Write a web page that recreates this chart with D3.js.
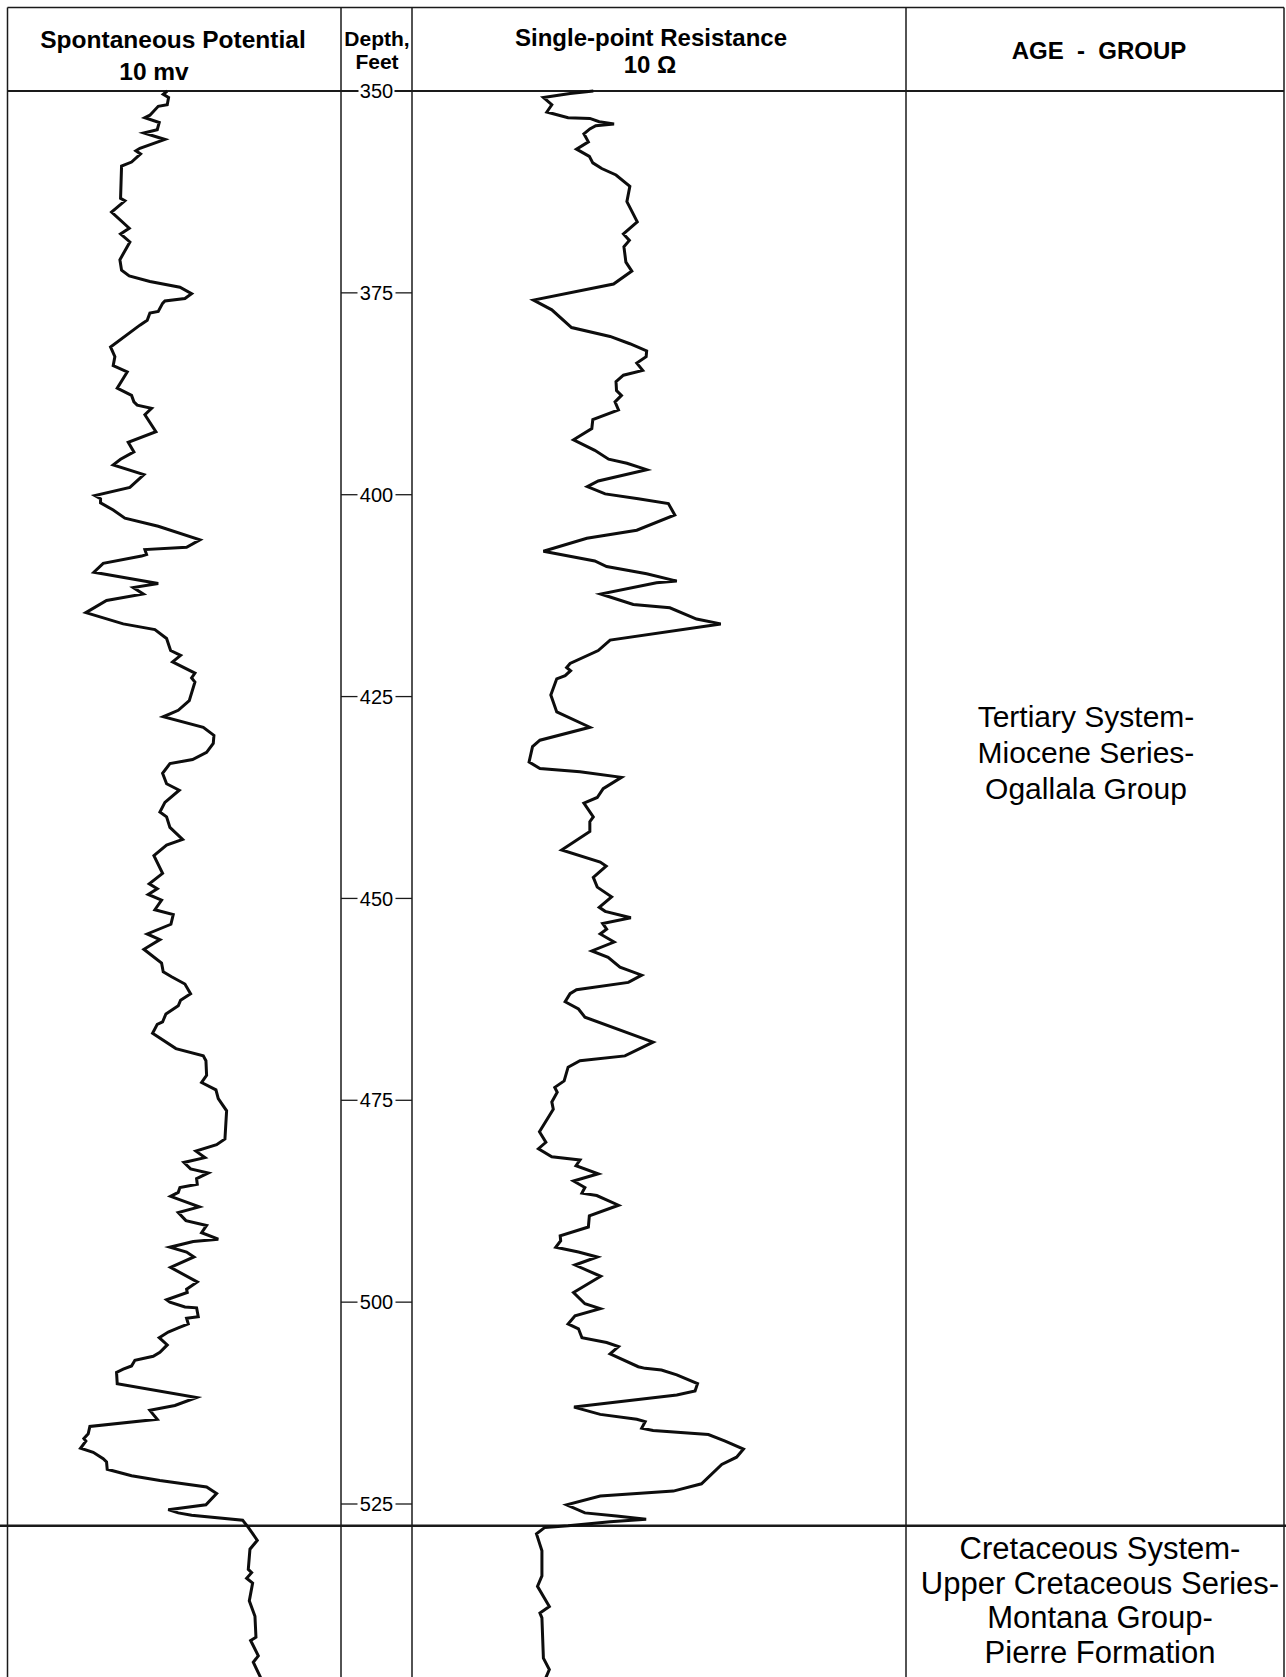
<!DOCTYPE html>
<html>
<head>
<meta charset="utf-8">
<script src="https://cdn.jsdelivr.net/npm/d3@7"></script>
<style>
  html, body { margin: 0; padding: 0; background: #fff; }
  svg { display: block; }
  text { font-family: "Liberation Sans", Arial, sans-serif; fill: #000; }
</style>
</head>
<body>
<div id="log-container"></div>
<script>
// depth ticks on the centre track
var depthTicks = [350, 375, 400, 425, 450, 475, 500, 525];

// formation contact (feet)
var contactDepth = 527.7;

// track headers
var headerSP = ["Spontaneous Potential", "10 mv"];
var headerDepth = ["Depth,", "Feet"];
var headerRes = ["Single-point Resistance", "10 \u03A9"];
var headerAge = "AGE  -  GROUP";

// formations
var upperUnit = ["Tertiary System-", "Miocene Series-", "Ogallala Group"];
var lowerUnit = ["Cretaceous System-", "Upper Cretaceous Series-", "Montana Group-", "Pierre Formation"];

// spontaneous potential: [depth ft, relative mv position in track 0-100]
var spLog = [
  [350,47.9],[350.4,46.7],[350.8,48.3],[351.7,47.9],[351.9,45.2],[353.0,42.7],[353.3,41.2],[353.9,45.5],
  [354.8,44.9],[355.2,40.9],[356.0,47.2],[357.1,39.7],[357.4,38.5],[357.8,39.9],[358.8,37.2],[359.3,34.2],
  [363.3,33.9],[363.6,35.2],[365.0,31.2],[367.0,36.5],[367.7,33.9],[368.7,36.7],[370.9,33.7],[372.2,34.2],
  [372.9,36.5],[373.6,42.7],[374.3,51.7],[375.1,55.2],[375.7,53.2],[376.0,47.2],[376.3,46.5],[377.3,45.2],
  [377.5,42.7],[378.4,41.9],[379.0,39.7],[381.7,30.9],[382.9,32.2],[384.0,31.7],[384.8,35.9],[386.8,32.9],
  [387.7,37.2],[388.5,37.9],[388.9,38.9],[389.3,43.2],[390.1,41.2],[392.2,44.5],[393.5,36.2],[394.7,37.9],
  [395.6,33.9],[396.3,31.7],[397.5,40.9],[399.1,36.7],[400.1,26.2],[400.5,27.9],[401.0,27.9],[401.9,31.7],
  [402.9,35.2],[403.9,45.2],[405.6,57.7],[406.5,53.7],[406.8,41.2],[407.4,41.7],[407.6,40.2],[408.5,28.7],
  [409.6,25.9],[411.0,45.2],[411.5,37.7],[412.3,40.7],[413.1,29.7],[414.6,23.5],[416.0,34.7],[416.7,44.2],
  [417.8,47.7],[419.3,48.9],[419.9,51.9],[420.7,49.5],[422.1,56.2],[422.7,55.2],[423.2,56.2],[425.5,54.5],
  [426.7,51.2],[427.5,46.7],[428.8,58.7],[429.8,61.9],[430.8,61.7],[431.9,59.7],[432.8,55.5],[433.3,48.7],
  [434.5,46.5],[435.8,47.7],[436.6,51.5],[438.1,47.2],[439.3,45.7],[439.9,47.7],[441.2,48.7],[442.7,52.5],
  [443.4,47.7],[444.7,43.9],[446.9,46.5],[448.2,42.5],[448.8,44.9],[449.5,42.2],[450.2,46.2],[451.4,44.2],
  [452.0,49.7],[453.2,49.0],[454.4,41.9],[455.1,45.7],[456.3,40.9],[458.0,46.2],[459.1,46.7],[459.7,49.2],
  [460.6,53.2],[461.8,54.9],[462.6,51.9],[463.3,51.2],[464.3,47.5],[465.3,46.5],[465.6,44.9],[466.7,43.5],
  [468.6,50.5],[469.5,58.7],[470.1,59.5],[471.9,59.7],[472.8,58.2],[473.7,62.5],[474.8,63.2],[476.3,65.7],
  [479.8,65.2],[480.5,62.7],[481.3,56.5],[482.1,59.2],[482.7,52.9],[483.5,54.9],[484.0,60.2],[484.7,56.7],
  [485.4,56.9],[485.8,51.7],[486.4,51.2],[486.9,48.9],[488.2,57.5],[488.9,51.2],[489.9,53.5],[490.5,59.7],
  [491.4,58.2],[492.2,63.2],[492.5,55.7],[493.2,48.7],[493.8,53.7],[494.4,55.9],[495.7,48.9],[497.5,56.9],
  [498.4,53.7],[498.8,53.9],[499.7,47.7],[500.0,48.7],[500.6,53.2],[500.7,56.7],[501.8,57.2],[502.0,53.7],
  [502.7,54.2],[503.2,51.2],[503.7,48.2],[504.4,45.5],[505.3,47.9],[506.2,45.7],[506.7,43.7],[507.2,38.2],
  [507.9,37.2],[508.3,34.7],[508.7,32.7],[510.1,32.9],[511.8,56.7],[512.8,50.2],[513.4,42.7],[514.5,44.9],
  [515.4,24.7],[516.3,24.2],[516.9,22.9],[517.2,23.5],[518.1,21.9],[518.6,25.7],[519.4,28.7],[519.8,29.7],
  [520.7,29.9],[521.5,37.2],[522.1,45.7],[522.9,59.7],[523.7,62.7],[525.1,59.5],[525.7,48.2],[526.1,51.2],
  [526.4,55.2],[527.0,70.5],[527.9,72.2],[529.5,74.9],[530.6,72.7],[533.1,72.2],[533.5,73.2],[534.2,71.7],
  [534.8,73.5],[537.0,72.5],[538.9,74.2],[541.5,74.5],[541.9,72.9],[543.8,75.2],[544.6,73.7],[546.5,75.9]
];

// single-point resistance: [depth ft, relative ohm position in track 0-100]
var resLog = [
  [350,36.7],[350.3,32.0],[350.8,26.6],[351.7,28.3],[352.6,27.3],[353.3,31.6],[353.4,36.0],[353.8,37.9],
  [354.1,40.9],[354.3,37.2],[354.7,36.0],[355.3,34.8],[356.3,35.7],[357.2,33.3],[358.1,35.9],[358.9,36.6],
  [359.6,38.4],[360.4,41.3],[361.8,44.1],[363.7,43.5],[366.2,45.6],[367.7,42.8],[368.5,44.0],[369.3,42.9],
  [371.2,43.3],[372.3,44.5],[373.9,40.8],[375.9,24.6],[377.1,28.3],[379.3,32.3],[380.4,40.1],[381.3,44.1],
  [382.2,47.5],[382.9,47.4],[383.7,45.5],[384.6,46.7],[385.2,42.8],[386.0,41.3],[387.1,41.4],[387.7,42.4],
  [388.5,41.1],[389.5,41.8],[390.7,36.6],[391.8,36.4],[393.2,32.7],[394.5,37.0],[395.6,39.8],[396.1,43.5],
  [396.9,47.5],[398.3,37.7],[399.0,35.5],[399.9,39.1],[400.5,45.8],[401.1,51.9],[402.5,53.2],[404.4,45.5],
  [405.4,35.4],[407.0,26.6],[408.2,37.0],[408.9,39.4],[409.8,47.5],[410.7,53.6],[410.9,49.5],[412.3,38.2],
  [413.6,44.8],[414.0,52.2],[415.4,57.6],[416.0,62.5],[418.0,40.1],[419.3,37.7],[420.9,32.0],[421.4,31.3],
  [421.8,32.1],[422.4,31.0],[422.8,29.3],[424.8,28.1],[426.9,29.3],[428.8,36.0],[430.4,25.9],[431.2,24.4],
  [433.1,23.7],[433.9,25.9],[434.3,34.0],[435.0,42.4],[436.4,38.7],[437.5,37.5],[438.2,34.8],[439.9,36.7],
  [440.5,36.0],[441.7,36.0],[444.0,30.3],[445.5,38.1],[446.0,39.3],[447.4,36.7],[448.6,37.5],[449.8,40.4],
  [451.1,37.9],[451.6,39.1],[452.4,44.3],[453.1,38.6],[453.8,39.4],[454.4,38.1],[455.4,40.9],[456.5,36.4],
  [457.3,39.7],[458.5,42.1],[459.5,46.5],[460.4,43.8],[461.3,33.3],[461.8,32.0],[462.8,31.0],[463.7,33.7],
  [464.7,35.0],[467.8,48.8],[469.5,43.1],[470.1,34.0],[470.9,31.6],[472.6,30.8],[473.4,28.9],[474.0,29.4],
  [475.2,28.3],[476.1,28.6],[478.9,25.8],[480.2,27.1],[481.0,25.6],[482.0,28.3],[482.4,34.0],[483.1,33.2],
  [484.1,37.7],[485.0,32.7],[485.8,35.0],[486.5,34.4],[486.8,37.4],[488.0,41.8],[489.3,35.9],[490.7,35.7],
  [491.8,30.0],[492.4,30.1],[493.2,29.1],[493.8,33.7],[494.4,37.5],[495.4,33.0],[496.8,38.2],[498.8,32.7],
  [500.2,35.0],[500.8,38.1],[501.7,33.0],[502.7,31.6],[503.3,33.7],[504.4,34.4],[505.0,39.4],[505.5,41.8],
  [506.4,40.1],[508.0,45.8],[508.2,47.2],[508.4,50.5],[509.0,53.6],[510.1,57.8],[511.0,57.3],[511.5,53.6],
  [513.0,32.8],[513.9,38.1],[514.5,45.5],[514.8,47.2],[515.6,46.5],[515.9,48.8],[516.4,60.0],[517.2,63.4],
  [518.2,67.1],[519.2,65.7],[520.1,62.7],[522.5,58.6],[523.4,52.9],[524.0,38.1],[525.1,31.3],[526.1,35.0],
  [526.5,41.4],[526.9,47.4],[527.2,40.1],[527.7,31.6],[527.9,26.9],[528.7,25.2],[530.8,26.3],[533.9,26.3],
  [535.2,25.4],[537.7,27.8],[538.5,25.9],[539.1,26.3],[544.1,26.6],[545.5,27.8],[546.5,27.1]
];

draw();

function draw() {
  var width = 1286, height = 1677;
  var top = 7.5;
  // column edges: SP | depth | resistance | age
  var cols = [7.5, 341, 412, 906, 1284];

  var svg = d3.select("#log-container").append("svg")
    .attr("width", width)
    .attr("height", height);

  // depth scale
  var y = d3.scaleLinear().domain([350, 525]).range([91, 1504]);

  // track scales
  var xSP = d3.scaleLinear().domain([0, 100]).range([cols[0], cols[1]]);
  var xRes = d3.scaleLinear().domain([0, 100]).range([cols[2], cols[3]]);

  //Frame
  var frame = svg.append("g").attr("stroke", "#1a1a1a").attr("fill", "none");
  frame.append("line")
    .attr("x1", cols[0]).attr("x2", cols[4])
    .attr("y1", top).attr("y2", top)
    .attr("stroke-width", 1.6);
  frame.selectAll(".col")
    .data(cols)
    .enter().append("line")
    .attr("class", "col")
    .attr("x1", function(d) { return d; })
    .attr("x2", function(d) { return d; })
    .attr("y1", top)
    .attr("y2", height)
    .attr("stroke-width", 1.5);
  frame.append("line")
    .attr("x1", cols[0]).attr("x2", cols[4])
    .attr("y1", y(350)).attr("y2", y(350))
    .attr("stroke-width", 2);
  frame.append("line")
    .attr("x1", 0).attr("x2", width)
    .attr("y1", y(contactDepth)).attr("y2", y(contactDepth))
    .attr("stroke-width", 2.4);

  //Headers
  function header(lines, xs, baselines, size) {
    svg.selectAll(null)
      .data(lines)
      .enter().append("text")
      .attr("x", function(d, i) { return xs[i]; })
      .attr("y", function(d, i) { return baselines[i]; })
      .attr("text-anchor", "middle")
      .style("font-size", size + "px")
      .style("font-weight", "bold")
      .style("white-space", "pre")
      .text(function(d) { return d; });
  }
  header(headerSP, [173, 154], [48, 80], 24.5);
  header(headerDepth, [377, 377], [46, 69], 21);
  header(headerRes, [651, 650], [46, 73], 24);
  header([headerAge], [1099], [59], 24);

  //Depth ticks
  var mid = (cols[1] + cols[2]) / 2;
  var tick = svg.selectAll(".tick")
    .data(depthTicks)
    .enter().append("g")
    .attr("class", "tick")
    .attr("transform", function(d) { return "translate(0," + y(d) + ")"; });

  tick.append("rect")
    .attr("x", mid - 18).attr("y", -9)
    .attr("width", 36).attr("height", 18)
    .attr("fill", "#fff");
  tick.append("line")
    .attr("x1", cols[1]).attr("x2", mid - 19)
    .attr("stroke", "#1a1a1a").attr("stroke-width", 1.3);
  tick.append("line")
    .attr("x1", mid + 19).attr("x2", cols[2])
    .attr("stroke", "#1a1a1a").attr("stroke-width", 1.3);
  tick.append("text")
    .attr("x", mid)
    .attr("dy", "0.36em")
    .attr("text-anchor", "middle")
    .style("font-size", "20px")
    .text(function(d) { return d; });

  //Curves
  var spLine = d3.line()
    .x(function(d) { return xSP(d[1]); })
    .y(function(d) { return y(d[0]); });
  var resLine = d3.line()
    .x(function(d) { return xRes(d[1]); })
    .y(function(d) { return y(d[0]); });

  svg.append("path")
    .datum(spLog)
    .attr("d", spLine)
    .attr("fill", "none")
    .attr("stroke", "#0d0d0d")
    .attr("stroke-width", 3)
    .attr("stroke-linejoin", "miter")
    .attr("stroke-miterlimit", 4);

  svg.append("path")
    .datum(resLog)
    .attr("d", resLine)
    .attr("fill", "none")
    .attr("stroke", "#0d0d0d")
    .attr("stroke-width", 3)
    .attr("stroke-linejoin", "miter")
    .attr("stroke-miterlimit", 4);

  //Formation names
  svg.selectAll(".upper")
    .data(upperUnit)
    .enter().append("text")
    .attr("class", "upper")
    .attr("x", 1086)
    .attr("y", function(d, i) { return 727 + i * 36; })
    .attr("text-anchor", "middle")
    .style("font-size", "30px")
    .text(function(d) { return d; });

  svg.selectAll(".lower")
    .data(lowerUnit)
    .enter().append("text")
    .attr("class", "lower")
    .attr("x", 1100)
    .attr("y", function(d, i) { return 1559 + i * 34.5; })
    .attr("text-anchor", "middle")
    .style("font-size", "31px")
    .text(function(d) { return d; });
}
</script>
</body>
</html>
